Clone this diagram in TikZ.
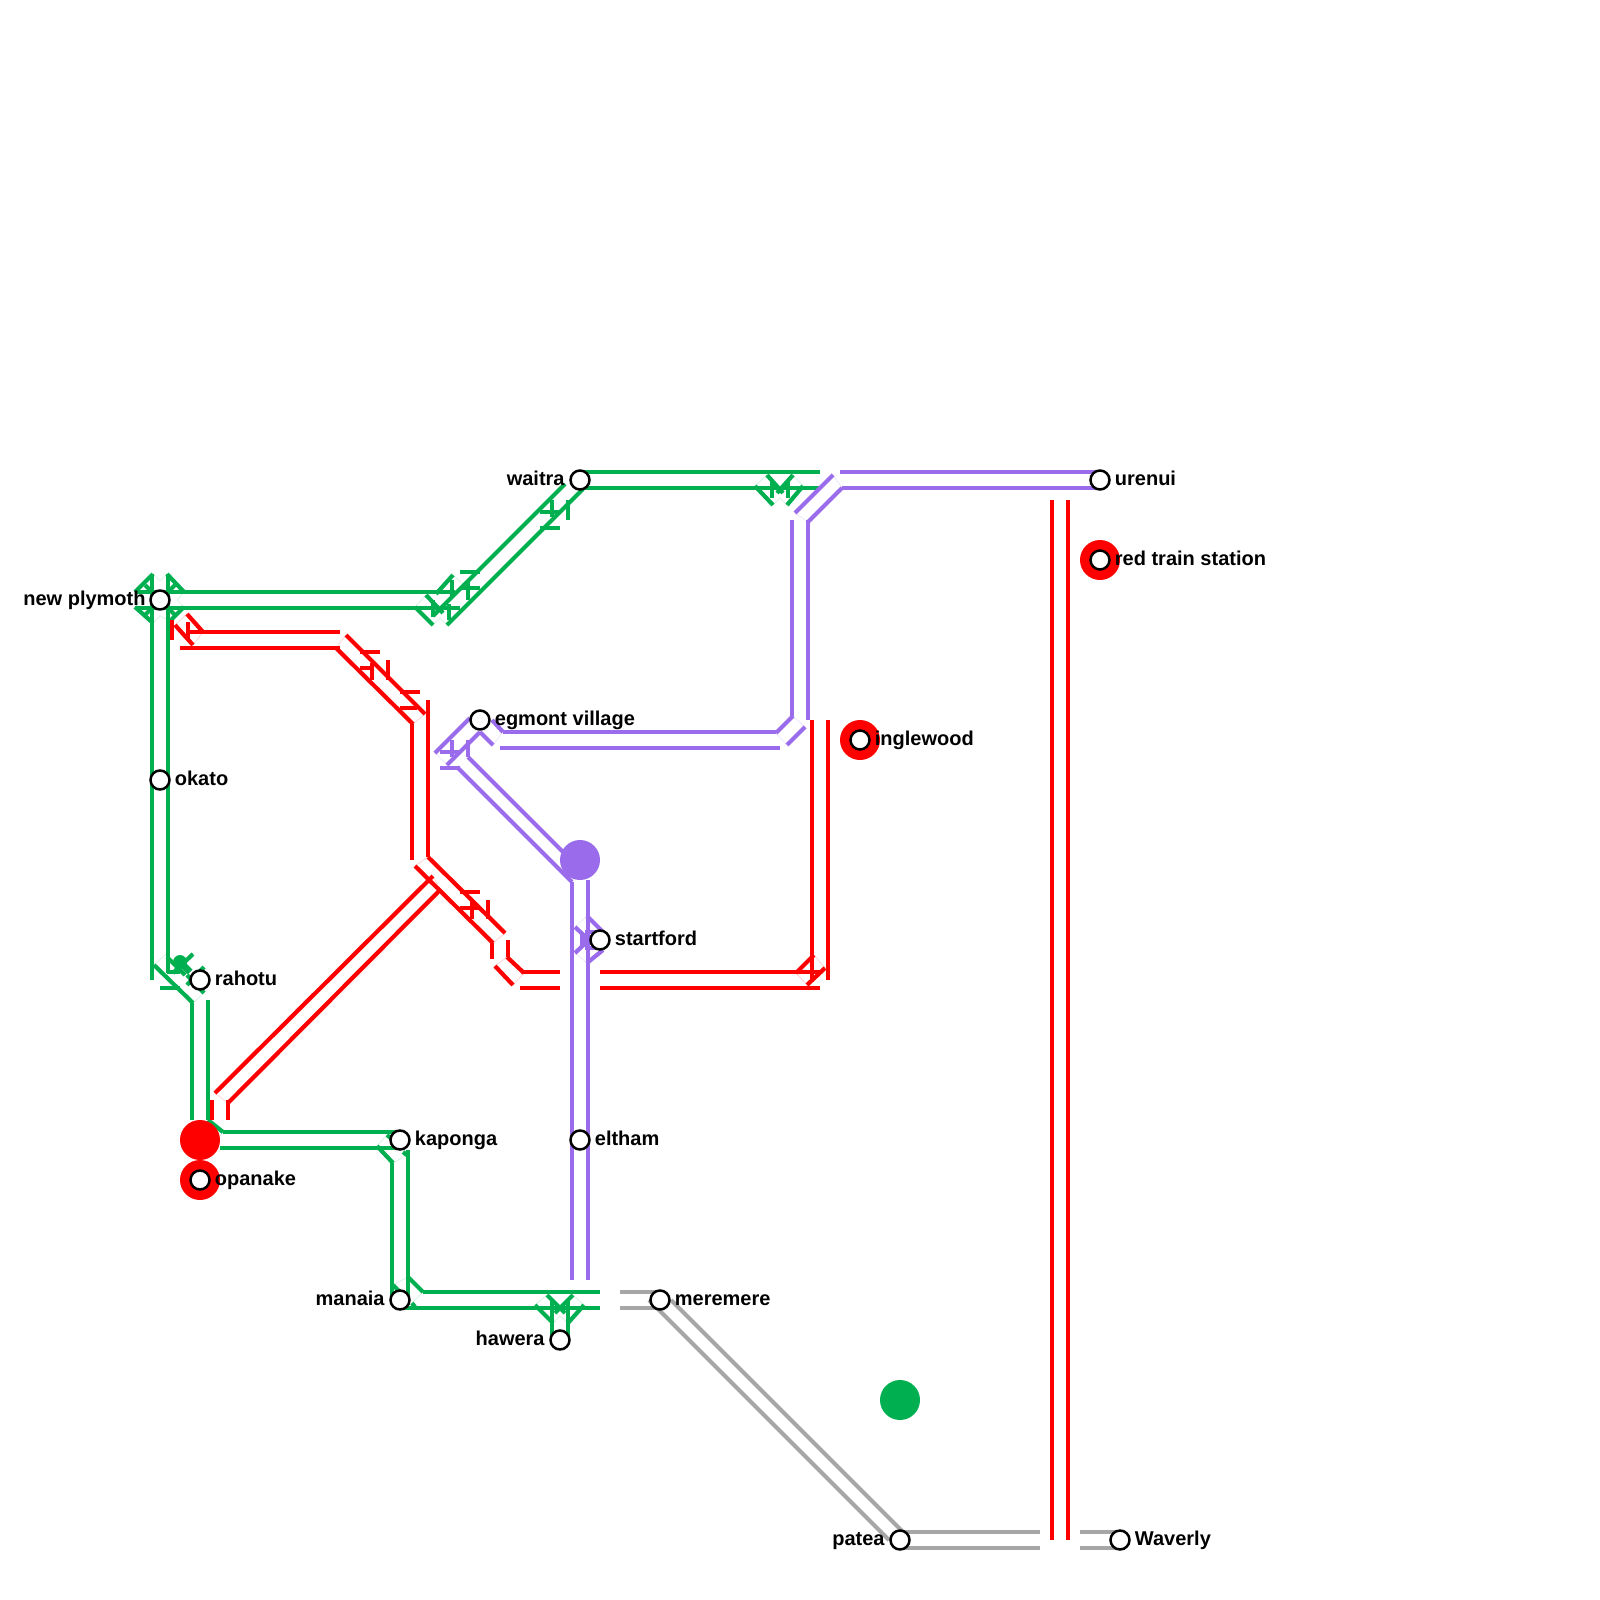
\documentclass[tikz,border=0pt]{standalone}
\usepackage{fontspec}
\setmainfont{Liberation Sans}
\definecolor{mgreen}{HTML}{00B050}
\definecolor{mpurple}{HTML}{9A6CEC}
\definecolor{mred}{HTML}{FF0000}
\definecolor{mgray}{HTML}{A6A6A6}
\tikzset{
  gr/.style={draw=mgreen,line width=2pt},
  pu/.style={draw=mpurple,line width=2pt},
  re/.style={draw=mred,line width=2pt},
  gy/.style={draw=mgray,line width=2pt},
  gd/.style={draw=mgreen,line width=2.1pt,line cap=square},
  pd/.style={draw=mpurple,line width=2.1pt,line cap=square},
  rd/.style={draw=mred,line width=2.1pt,line cap=square},
  yd/.style={draw=mgray,line width=2.1pt},
  pg/.style={draw=mgreen!14,line width=0.5pt},
  pp/.style={draw=mpurple!14,line width=0.5pt},
  pr/.style={draw=mred!14,line width=0.5pt},
  stn/.style={circle,draw=black,fill=white,line width=1.25pt,minimum size=9.5pt,inner sep=0pt},
  ring/.style={circle,fill=mred,minimum size=20pt,inner sep=0pt},
  dot/.style={circle,minimum size=20pt,inner sep=0pt},
  lab/.style={font=\fontsize{10}{12}\selectfont\bfseries,text=black,inner sep=0pt},
}
\begin{document}
\begin{tikzpicture}[x=0.5pt,y=-0.5pt]
\useasboundingbox (0,0) rectangle (1600,1600);
% faint outlines of the junctions
\draw[pg] (153,574)--(160,581)--(167,574) (135,592)--(142,600)--(135,607) (184,592)--(177,600)--(184,607) (153,623)--(160,616)--(170,621);
\draw[pg] (755,486)--(767,475) (793,475)--(803,486) (773,505)--(780,498)--(787,505);
\draw[pg] (535,1305)--(547,1295) (573,1295)--(584,1305) (553,1323)--(560,1316)--(568,1323);
\draw[pg] (415,607)--(426,595) (433,625)--(440,618)--(447,625) (453,575)--(465,586);
\draw[pg] (223,1132)--(215,1143) (387,1135)--(377,1146) (393,1163)--(407,1155) (408,1277)--(393,1285) (423,1292)--(412,1303) (154,965)--(168,952) (193,1003)--(204,993);
\draw[pp] (833,475)--(842,488) (795,513)--(808,522) (793,716)--(805,727) (776,733)--(787,745) (435,753)--(447,765) (503,732)--(493,745) (587,916)--(575,927) (587,963)--(575,953);
\draw[pr] (346,635)--(336,648) (425,714)--(413,724) (428,857)--(415,866) (505,933)--(493,943) (507,957)--(495,966) (524,973)--(513,985) (187,614)--(175,625) (203,632)--(193,645) (433,876)--(440,890) (215,1093)--(228,1103) (814,955)--(825,968) (796,973)--(807,985);
% new plymoth -- waitra
\draw[gr] (135,592)--(455,592) (135,608)--(460,608);
\draw[gd] (153,574)--(135,592) (167,574)--(184,592) (135,607)--(153,623) (184,607)--(170,621);
\draw[gr] (152,574)--(152,980) (168,574)--(168,973);
\draw[gd] (145,585)--(175,615) (175,585)--(145,615);
\draw[gd] (415,607)--(433,625) (426,595)--(443,613) (436,594)--(453,575);
\draw[gd] (433,616)--(565,484) (447,625)--(583,489);
\draw[gr] (433,600)--(433,617) (449,604)--(449,620) (452,580)--(452,597) (468,580)--(468,600);
\draw[gr] (460,572)--(480,572) (460,588)--(480,588);
\draw[gr] (540,512)--(560,512) (540,528)--(560,528) (552,500)--(552,517) (568,500)--(568,520);
% waitra -- junction
\draw[gr] (580,472)--(820,472) (580,488)--(820,488);
\draw[gd] (767,475)--(783,493) (793,475)--(777,493) (755,486)--(773,505) (803,486)--(787,505);
\draw[gr] (772,480)--(772,498) (788,480)--(788,498);
% rahotu
\draw[gd] (154,965)--(193,1003);
\draw[gr] (160,988)--(180,988) (167,972)--(180,972);
\fill[mgreen] (180,962) circle (3.5pt);
\draw[mgreen,line width=3.5pt] (178,960)--(190,972);
\draw[gd] (193,954)--(173,973) (204,967)--(187,985) (204,993)--(187,975) (167,957)--(185,975);
\draw[gr] (192,1003)--(192,1120) (208,1000)--(208,1120);
% kaponga / manaia / hawera
\draw[gd] (208,1120)--(223,1132);
\draw[gr] (223,1132)--(400,1132) (220,1148)--(400,1148);
\draw[gd] (387,1135)--(397,1143) (377,1146)--(393,1163) (403,1152)--(407,1155);
\draw[gr] (392,1163)--(392,1300) (408,1150)--(408,1300);
\draw[gd] (408,1277)--(423,1292) (393,1285)--(400,1292) (412,1303)--(415,1307);
\draw[gr] (423,1292)--(600,1292) (400,1308)--(600,1308);
\draw[gd] (547,1295)--(565,1313) (573,1295)--(555,1313) (535,1305)--(553,1323) (584,1305)--(568,1323);
\draw[gr] (552,1300)--(552,1340) (568,1300)--(568,1340);
% purple
\draw[pu] (840,472)--(1100,472) (842,488)--(1100,488);
\draw[pd] (833,475)--(795,513) (842,488)--(808,522);
\draw[pu] (792,520)--(792,716) (808,520)--(808,720);
\draw[pd] (793,716)--(776,733) (805,727)--(787,745);
\draw[pu] (503,732)--(776,732) (500,748)--(780,748);
\draw[pd] (435,753)--(470,718) (447,765)--(480,732) (492,720)--(503,732) (480,732)--(493,745);
\draw[pu] (440,752)--(460,752) (440,768)--(460,768) (452,740)--(452,757) (468,740)--(468,757);
\draw[pd] (457,767)--(572,882) (468,757)--(575,864);
\draw[pu] (572,882)--(572,1280) (588,880)--(588,1280);
\draw[pd] (587,916)--(603,932) (603,950)--(587,963) (575,927)--(592,943) (575,953)--(592,937);
\draw[pu] (585,932)--(603,932) (585,948)--(603,948);
\fill[mpurple] (580,932)--(594,940)--(580,948)--cycle;
% red
\draw[re] (172,620)--(172,640) (188,622)--(188,640);
\draw[rd] (187,614)--(203,632) (175,625)--(193,645);
\draw[re] (188,632)--(340,632) (180,648)--(340,648);
\draw[rd] (346,635)--(425,714) (336,648)--(413,724);
\draw[re] (360,652)--(380,652) (360,668)--(373,668) (372,663)--(372,680) (388,660)--(388,680) (400,692)--(420,692) (400,708)--(417,708);
\draw[re] (412,724)--(412,860) (428,700)--(428,857);
\draw[rd] (428,857)--(505,933) (415,866)--(493,943);
\draw[re] (460,892)--(480,892) (460,908)--(480,908) (472,900)--(472,919) (488,900)--(488,919);
\draw[re] (492,943)--(492,959) (508,940)--(508,957);
\draw[rd] (507,957)--(524,973) (495,966)--(513,985);
\draw[re] (522,972)--(560,972) (520,988)--(560,988) (600,972)--(820,972) (600,988)--(820,988);
\draw[rd] (814,955)--(796,973) (825,968)--(807,985);
\draw[re] (812,720)--(812,980) (828,720)--(828,980);
\draw[rd] (215,1093)--(433,876) (228,1103)--(440,890);
\draw[re] (212,1100)--(212,1120) (228,1100)--(228,1120);
\draw[re] (1052,500)--(1052,1540) (1068,500)--(1068,1540);
% gray
\draw[gy] (620,1292)--(660,1292) (620,1308)--(660,1308);
\draw[yd] (671,1300)--(903,1532) (649,1300)--(889,1540);
\draw[gy] (900,1532)--(1040,1532) (900,1548)--(1040,1548) (1080,1532)--(1120,1532) (1080,1548)--(1120,1548);
% big dots
\node[dot,fill=mred] (reddot) at (200,1140) {};
\node[dot,fill=mpurple] (purpledot) at (580,860) {};
\node[dot,fill=mgreen] (greendot) at (900,1400) {};
\node[ring] (ringtrain) at (1100,560) {};
\node[ring] (ringing) at (860,740) {};
\node[ring] (ringopa) at (200,1180) {};
% stations
\foreach \n/\x/\y in {newplymoth/160/600,waitra/580/480,urenui/1100/480,redtrain/1100/560,egmont/480/720,inglewood/860/740,okato/160/780,startford/600/940,rahotu/200/980,kaponga/400/1140,eltham/580/1140,opanake/200/1180,manaia/400/1300,meremere/660/1300,hawera/560/1340,patea/900/1540,waverly/1120/1540}
  \node[stn] (\n) at (\x,\y) {};
% labels
\foreach \t/\x/\y in {urenui/1114.5/485,red train station/1114.5/565,egmont village/494.5/725,inglewood/874.5/745,okato/174.5/785,startford/614.5/945,rahotu/214.5/985,kaponga/414.5/1145,eltham/594.5/1145,opanake/214.5/1185,meremere/674.5/1305,Waverly/1134.5/1545}
  \node[lab,anchor=base west] at (\x,\y) {\t};
\foreach \t/\x/\y in {new plymoth/146/605,waitra/565/485,manaia/385/1305,hawera/545/1345,patea/885/1545}
  \node[lab,anchor=base east] at (\x,\y) {\t};
\end{tikzpicture}
\end{document}
